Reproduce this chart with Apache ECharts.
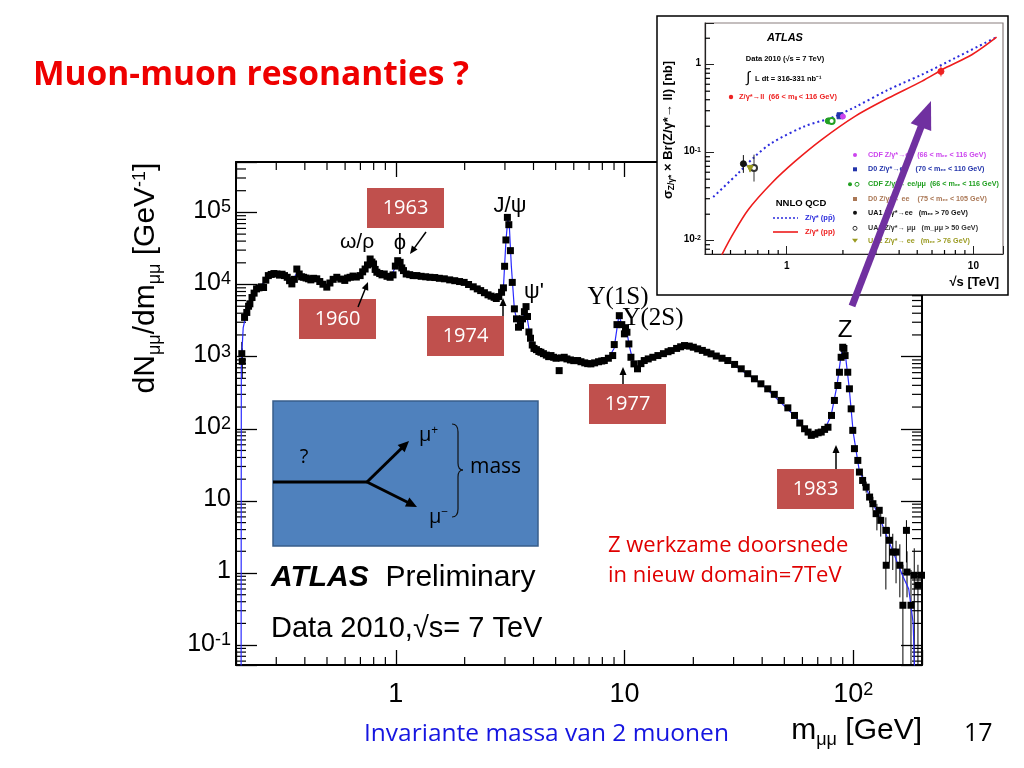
<!DOCTYPE html>
<html><head><meta charset="utf-8">
<script src="https://cdn.jsdelivr.net/npm/echarts@6/dist/echarts.min.js"></script>
<style>html,body{margin:0;padding:0;background:#fff;}#c{width:1024px;height:768px;}</style>
</head><body><div id="c"></div>
<script>
// ---------------- main spectrum data (m_mumu in GeV, dN/dm in 1/GeV) ----------------
const massGeV = [0.212,0.213,0.218,0.223,0.227,0.230,0.235,0.240,0.246,0.252,0.258,0.264,0.270,0.277,0.285,0.293,0.302,0.310,0.318,0.326,0.335,0.343,0.351,0.360,0.369,0.378,0.387,0.395,0.405,0.415,0.425,0.437,0.451,0.465,0.480,0.499,0.515,0.532,0.552,0.575,0.598,0.615,0.631,0.650,0.672,0.698,0.716,0.734,0.752,0.772,0.786,0.799,0.812,0.826,0.850,0.870,0.890,0.915,0.944,0.972,0.995,1.019,1.044,1.062,1.080,1.110,1.150,1.190,1.236,1.290,1.350,1.410,1.480,1.550,1.630,1.720,1.810,1.900,1.990,2.080,2.180,2.270,2.350,2.440,2.530,2.610,2.690,2.750,2.820,2.900,2.955,2.990,3.030,3.075,3.120,3.170,3.230,3.300,3.370,3.440,3.510,3.580,3.650,3.710,3.765,3.820,3.880,3.950,4.020,4.120,4.220,4.310,4.420,4.550,4.660,4.770,4.900,5.020,5.180,5.300,5.450,5.600,5.800,6.000,6.240,6.450,6.700,6.900,7.130,7.400,7.700,7.950,8.160,8.500,8.880,9.020,9.270,9.490,9.730,9.990,10.10,10.25,10.45,10.67,11.00,11.40,11.80,12.20,12.70,13.30,14.00,14.80,15.50,16.00,16.90,17.60,18.30,19.20,20.00,20.90,21.90,22.90,23.90,25.20,26.70,28.30,30.30,32.40,34.60,37.00,39.50,42.30,45.20,48.40,51.80,55.40,58.40,61.30,63.50,65.60,68.00,70.30,72.50,75.00,77.60,80.40,82.80,85.70,87.10,88.60,90.00,91.10,92.20,94.70,96.30,98.00,99.60,101.3,104.8,106.5,110.0,114.0,118.0,122.0,126.0,130.0,132.0,139.0,139.5,144.0,149.0,154.0,160.0,165.0,171.0,172.0,179.0,185.0,192.0,199.0];
const dNdm = [1100,860,3500,4100,5000,5400,6600,7600,8700,9000,9300,9100,11500,13300,13800,14200,14000,13500,13900,13300,12600,11300,10200,11800,16400,14000,12800,12600,12300,12000,11600,12200,12000,11000,10100,9200,10500,11800,12600,11900,11400,12300,12600,13100,12700,13300,15000,16400,18700,22600,20500,19300,16200,14800,14200,13600,14000,13000,12600,13600,18000,21400,20300,17000,15600,14000,13700,13300,13300,13000,12800,12600,12500,12200,12000,11600,11300,11000,10700,10000,9300,8700,8240,7700,7200,6900,6650,6400,6800,7800,9000,17900,41500,85300,67600,29500,10700,4600,3340,2560,2700,3340,4200,4940,3600,2200,1800,1450,1300,1250,1180,1150,1100,1050,1000,1035,980,950,640,960,980,930,900,880,883,850,820,800,794,820,850,870,883,950,1035,1470,2780,3700,2780,2070,2520,2180,1500,980,794,678,800,883,930,980,1035,1100,1170,1213,1300,1370,1425,1400,1350,1283,1220,1150,1094,1020,950,883,780,678,580,493,420,358,300,247,195,153,120,100,90,81,84,88,90,98,105,153,247,398,608,980,1350,1300,1035,608,358,189,95,53,36.4,25.1,19.2,15.5,11.3,9.14,6.65,7.4,5.37,3.9,1.28,2.84,1.95,1.95,1.28,0.357,3.9,1.03,0.357,0.93,0.676,0.93];
// Monte Carlo (blue line)
const mcMass = [0.2105,0.211,0.215,0.222,0.235,0.25,0.27,0.30,0.35,0.37,0.40,0.50,0.55,0.70,0.77,0.83,0.95,1.02,1.08,1.4,2.0,2.7,2.85,2.96,3.03,3.09,3.14,3.20,3.30,3.45,3.60,3.69,3.78,3.90,4.3,6.0,7.1,8.5,9.0,9.46,9.75,10.0,10.2,10.5,10.9,11.4,12.5,18.3,28,40,55,65,75,80,85,88,90.5,93,96,100,106,115,130,150,165,175,183,187];
const mcVal  = [0.01,800,2500,4000,6500,8800,11500,14000,11000,14500,12500,9800,12300,13300,21000,15000,12800,20500,15500,12600,10700,6600,7000,10000,40000,82000,60000,18000,4500,2500,3500,4900,3000,1600,1150,880,800,950,1300,3800,2700,2200,2400,1400,850,700,900,1420,890,410,155,82,98,150,400,900,1450,900,380,90,28,14,6,1.9,0.9,0.6,0.2,0.02];
// error bars
const errMass = [0.212,0.213,110,114,118,122,127,132,139,144,149,154,160,165,171,172,179,185,192,199];
const errLow  = [700,500,16,13,9.3,7.4,3.9,3.2,0.59,1.4,1.1,0.72,0.46,0.01,1.4,0.46,0.01,0.01,0.01,0.46];
const errHigh = [1600,1300,23,18.5,13.8,11.4,9.1,7.9,5.9,4.3,3.5,2.8,2.5,1.3,5.4,2.0,1.1,2.2,1.3,1.8];

// ---------------- inset: sigma x BR vs sqrt(s) ----------------
const ppbarS   = [0.404,0.551,0.676,0.831,1.25,1.74,2.32,3.5,5.28,7.97,13.3];
const ppbarSig = [0.0314,0.0588,0.0908,0.129,0.2,0.25,0.33,0.52,0.77,1.19,2.06];
const ppS      = [0.449,0.507,0.622,0.832,1.107,1.54,2.32,3.5,5.28,7.05,9.8,13.3];
const ppSig    = [0.0069,0.0112,0.0225,0.0453,0.0796,0.141,0.259,0.418,0.647,0.917,1.3,2.06];
const ptS      = [0.586,0.668,0.636,1.67,1.74,1.93,2.0,6.7];
const ptSig    = [0.075,0.067,0.066,0.23,0.23,0.263,0.258,0.84];
const ptLo     = [0.059,0.047,0.060,0.22,0.22,0.25,0.25,0.736];
const ptHi     = [0.094,0.095,0.073,0.24,0.24,0.275,0.27,0.957];
const ptNames  = ['UA1 ee','UA1 mumu','UA2 ee','CDF ee/mumu','CDF ee/mumu','D0 ee','CDF ee','ATLAS'];

// ---------------- helpers ----------------
const ptStyle = [
  {symbol:'circle',color:'#111',size:6},
  {symbol:'emptyCircle',color:'#333',size:6},
  {symbol:'triangle',color:'#9a9a20',size:6,rot:180},
  {symbol:'circle',color:'#22a022',size:6},
  {symbol:'emptyCircle',color:'#22a022',size:6},
  {symbol:'rect',color:'#2233aa',size:6},
  {symbol:'circle',color:'#cc44ee',size:5},
  {symbol:'circle',color:'#ee2222',size:6}
];
function decadeMinor(lo, hi){ const out=[]; for(let d=Math.floor(Math.log10(lo)); d<=Math.ceil(Math.log10(hi)); d++){ for(let k=2;k<=9;k++){ const v=k*Math.pow(10,d); if(v>lo && v<hi) out.push(v);} } return out; }
function isDecade(v){ const l=Math.log10(v); return Math.abs(l-Math.round(l))<1e-6; }
function powFmt(v){ if(!isDecade(v)) return ''; const e=Math.round(Math.log10(v)); if(e===0) return '{n|1}'; if(e===1) return '{n|10}'; return '{n|10}{e|'+e+'}'; }
const SANS='Liberation Sans', SLIDE='Open Sans';

function arrowEls(x1,y1,x2,y2,color,lw,hl,hw,z){
  const dx=x2-x1, dy=y2-y1, L=Math.hypot(dx,dy), ux=dx/L, uy=dy/L;
  const bx=x2-ux*hl, by=y2-uy*hl, px=-uy, py=ux;
  return [
    {type:'line',z:z,shape:{x1:x1,y1:y1,x2:bx+ux,y2:by+uy},style:{stroke:color,lineWidth:lw}},
    {type:'polygon',z:z,shape:{points:[[x2,y2],[bx+px*hw/2,by+py*hw/2],[bx-px*hw/2,by-py*hw/2]]},style:{fill:color}}
  ];
}
function txt(x,y,text,o){
  o=o||{};
  return {type:'text',z:o.z||6,x:x,y:y,rotation:o.rot||0,style:{text:text,fill:o.color||'#000',font:(o.style||'')+' '+(o.weight||'normal')+' '+(o.size||14)+'px "'+(o.family||SANS)+'"',align:o.align||'left',verticalAlign:'middle',rich:o.rich}};
}
function yearBox(x,y,label){
  return [
    {type:'rect',z:6,shape:{x:x,y:y,width:77,height:40},style:{fill:'#c0504d'}},
    txt(x+38.5,y+20,label,{color:'#fff',size:20,family:SLIDE,z:7,align:'center'})
  ];
}

const xMinorMain = decadeMinor(0.2,200);
const yMinorMain = decadeMinor(0.053,5e5);
const xMinorIn = decadeMinor(0.365,14.4);
const yMinorIn = decadeMinor(0.00706,2.98);

function minorTickSeries(values, isX, xi, yi, len1, len2, z, both){
  return {
    type:'custom', xAxisIndex:xi, yAxisIndex:yi, z:z, silent:true,
    data: values.map(v=> isX ? [v,1] : [1,v]),
    renderItem:function(params, api){
      const cs=params.coordSys; const ch=[];
      const st={stroke:'#000',lineWidth:1.2};
      if(isX){
        const x=api.coord([api.value(0),1])[0];
        ch.push({type:'line',shape:{x1:x,y1:cs.y+cs.height,x2:x,y2:cs.y+cs.height-len1},style:st});
        if(both) ch.push({type:'line',shape:{x1:x,y1:cs.y,x2:x,y2:cs.y+len2},style:st});
      } else {
        const y=api.coord([1,api.value(1)])[1];
        ch.push({type:'line',shape:{x1:cs.x,y1:y,x2:cs.x+len1,y2:y},style:st});
        if(both) ch.push({type:'line',shape:{x1:cs.x+cs.width,y1:y,x2:cs.x+cs.width-len2,y2:y},style:st});
      }
      return {type:'group',children:ch};
    }
  };
}
function errSeries(xs, lo, hi, xi, yi, z, colorFn){
  return {
    type:'custom', xAxisIndex:xi, yAxisIndex:yi, z:z, silent:true,
    data: xs.map((x,i)=>[x,lo[i],hi[i]]),
    renderItem:function(params, api){
      const cs=params.coordSys;
      const a=api.coord([api.value(0),api.value(1)]), b=api.coord([api.value(0),api.value(2)]);
      const clamp=y=>Math.max(cs.y,Math.min(cs.y+cs.height,y));
      return {type:'line',shape:{x1:a[0],y1:clamp(a[1]),x2:b[0],y2:clamp(b[1])},style:{stroke:colorFn?colorFn(params.dataIndex):'#000',lineWidth:1}};
    }
  };
}

const mainRich = {n:{fontSize:25,fontFamily:SANS,color:'#000',verticalAlign:'top',lineHeight:28},e:{fontSize:18,fontFamily:SANS,color:'#000',verticalAlign:'top',lineHeight:28}};
const mainRichX = {n:{fontSize:27,fontFamily:SANS,color:'#000',verticalAlign:'top',lineHeight:30},e:{fontSize:18,fontFamily:SANS,color:'#000',verticalAlign:'top',lineHeight:30}};
const inRich = {n:{fontSize:10,fontFamily:SANS,fontWeight:'bold',color:'#000',verticalAlign:'top',lineHeight:12},e:{fontSize:7,fontFamily:SANS,fontWeight:'bold',color:'#000',verticalAlign:'top',lineHeight:12}};

const option = {
  animation:false,
  backgroundColor:'#fff',
  grid:[
    {left:236,top:162,width:686,height:503,show:false},
    {left:705,top:23,width:298,height:231,show:false}
  ],
  xAxis:[
    {type:'log',logBase:10,gridIndex:0,min:0.2,max:200,position:'bottom',
     axisLine:{lineStyle:{color:'#000',width:2}},axisTick:{inside:true,length:15,lineStyle:{color:'#000',width:1.3}},
     axisLabel:{formatter:powFmt,margin:16,rich:mainRichX,color:'#000'},splitLine:{show:false},minorTick:{show:false}},
    {type:'log',logBase:10,gridIndex:0,min:0.2,max:200,position:'top',
     axisLine:{lineStyle:{color:'#000',width:2}},axisTick:{inside:true,length:15,lineStyle:{color:'#000',width:1.3}},
     axisLabel:{show:false},splitLine:{show:false}},
    {type:'log',logBase:10,gridIndex:1,min:0.365,max:14.4,position:'bottom',z:20,
     axisLine:{lineStyle:{color:'#222',width:1.2}},axisTick:{inside:true,length:8,lineStyle:{color:'#222',width:1}},
     axisLabel:{formatter:powFmt,margin:7,rich:inRich,color:'#000'},splitLine:{show:false}}
  ],
  yAxis:[
    {type:'log',logBase:10,gridIndex:0,min:0.053,max:5e5,position:'left',
     axisLine:{lineStyle:{color:'#000',width:2}},axisTick:{inside:true,length:21,lineStyle:{color:'#000',width:1.3}},
     axisLabel:{formatter:powFmt,margin:5,rich:mainRich,color:'#000'},splitLine:{show:false}},
    {type:'log',logBase:10,gridIndex:0,min:0.053,max:5e5,position:'right',
     axisLine:{lineStyle:{color:'#000',width:2}},axisTick:{inside:true,length:21,lineStyle:{color:'#000',width:1.3}},
     axisLabel:{show:false},splitLine:{show:false}},
    {type:'log',logBase:10,gridIndex:1,min:0.00706,max:2.98,position:'left',z:20,
     axisLine:{lineStyle:{color:'#222',width:1.2}},axisTick:{inside:true,length:9,lineStyle:{color:'#222',width:1}},
     axisLabel:{formatter:powFmt,margin:4,rich:inRich,color:'#000'},splitLine:{show:false}}
  ],
  series:[
    {type:'line',xAxisIndex:0,yAxisIndex:0,z:3,showSymbol:false,silent:true,clip:true,
     data:mcMass.map((m,i)=>[m,mcVal[i]]),lineStyle:{color:'#2a2aff',width:1.2}},
    errSeries(errMass,errLow,errHigh,0,0,3),
    {type:'scatter',xAxisIndex:0,yAxisIndex:0,z:4,symbol:'rect',symbolSize:7,silent:true,
     data:massGeV.map((m,i)=>[m,dNdm[i]]),itemStyle:{color:'#000',opacity:1}},
    minorTickSeries(xMinorMain,true,0,0,8,8,2,true),
    minorTickSeries(yMinorMain,false,0,0,10,10,2,true),
    // inset
    {type:'line',xAxisIndex:2,yAxisIndex:2,z:21,showSymbol:false,silent:true,smooth:0.3,clip:true,
     data:ppbarS.map((s,i)=>[s,ppbarSig[i]]),lineStyle:{color:'#2b2bdd',width:2,type:[2,3]}},
    {type:'line',xAxisIndex:2,yAxisIndex:2,z:21,showSymbol:false,silent:true,smooth:0.3,clip:true,
     data:ppS.map((s,i)=>[s,ppSig[i]]),lineStyle:{color:'#ee1c1c',width:1.6}},
    errSeries(ptS,ptLo,ptHi,2,2,22,i=>ptStyle[i].color),
    {type:'scatter',xAxisIndex:2,yAxisIndex:2,z:23,silent:true,
     data:ptS.map((s,i)=>({name:ptNames[i],value:[s,ptSig[i]],symbol:ptStyle[i].symbol,symbolSize:ptStyle[i].size,symbolRotate:ptStyle[i].rot||0,itemStyle:{color:ptStyle[i].color,borderColor:ptStyle[i].color,opacity:1}}))},
    minorTickSeries(xMinorIn,true,2,2,4,0,21,false),
    minorTickSeries(yMinorIn,false,2,2,5,0,21,false)
  ],
  graphic:{elements:[]}
};

const G = option.graphic.elements;
// slide title
G.push(txt(33,75,'Muon-muon resonanties ?',{color:'#ee0000',size:33.5,weight:'bold',family:SLIDE}));
// y axis title (rotated)
G.push({type:'text',z:6,x:148,y:278,rotation:Math.PI/2,style:{text:'{a|dN}{s|μμ}{a|/dm}{s|μμ}{a| [GeV}{p|-1}{a|]}',align:'center',verticalAlign:'middle',
  rich:{a:{fontSize:30,fontFamily:SANS,color:'#000',verticalAlign:'top',lineHeight:34},
        s:{fontSize:18,fontFamily:SANS,color:'#000',verticalAlign:'top',padding:[15,0,0,0],lineHeight:21},
        p:{fontSize:18,fontFamily:SANS,color:'#000',verticalAlign:'top',lineHeight:21}}}});
// x axis title
G.push({type:'text',z:6,x:922,y:733,style:{text:'{a|m}{s|μμ}{a| [GeV]}',align:'right',verticalAlign:'middle',
  rich:{a:{fontSize:30,fontFamily:SANS,color:'#000',verticalAlign:'top',lineHeight:34},
        s:{fontSize:18,fontFamily:SANS,color:'#000',verticalAlign:'top',padding:[15,0,0,0],lineHeight:21}}}});
G.push(txt(364,734,'Invariante massa van 2 muonen',{color:'#1515e0',size:24.5,family:SLIDE}));
G.push(txt(964,734,'17',{color:'#000',size:25,family:SLIDE}));
// particle labels
G.push(txt(357,242,'ω/ρ',{size:21,align:'center'}));
G.push(txt(400,243,'ϕ',{size:22,align:'center'}));
G.push(txt(510,206,'J/ψ',{size:22,align:'center'}));
G.push(txt(534,292,"ψ'",{size:22,align:'center'}));
G.push(txt(618,297,'Υ(1S)',{size:25,align:'center',family:'Liberation Serif'}));
G.push(txt(653,318,'Υ(2S)',{size:25,align:'center',family:'Liberation Serif'}));
G.push(txt(845,330,'Z',{size:24,align:'center'}));
// year boxes + arrows
G.push(...yearBox(367,188,'1963'), ...arrowEls(426,232,410,254,'#000',1.5,8,7,6));
G.push(...yearBox(299,299,'1960'), ...arrowEls(358,307,368,282,'#000',1.5,8,7,6));
G.push(...yearBox(427,316,'1974'), ...arrowEls(503,316,503,298,'#000',1.5,8,7,6));
G.push(...yearBox(589,384,'1977'), ...arrowEls(623,384,623,367,'#000',1.5,8,7,6));
G.push(...yearBox(777,469,'1983'), ...arrowEls(836,469,836,445,'#000',1.5,8,7,6));
// red note
G.push(txt(608,546,'Z werkzame doorsnede',{color:'#e00000',size:22,family:SLIDE}));
G.push(txt(608,576,'in nieuw domain=7TeV',{color:'#e00000',size:22,family:SLIDE}));
// decay diagram box
G.push({type:'rect',z:6,shape:{x:273,y:401,width:265,height:145},style:{fill:'#4f81bd',stroke:'#385d8a',lineWidth:1.5}});
G.push({type:'line',z:7,shape:{x1:273,y1:482,x2:367,y2:482},style:{stroke:'#000',lineWidth:3}});
G.push(...arrowEls(367,482,409,441,'#000',3,11,10,7));
G.push(...arrowEls(367,482,417,507,'#000',3,11,10,7));
G.push(txt(304,457,'?',{size:20,family:SLIDE,align:'center',z:7}));
G.push({type:'text',z:7,x:419,y:437,style:{text:'{a|μ}{s|+}',verticalAlign:'middle',rich:{a:{fontSize:20,fontFamily:SLIDE,color:'#000',verticalAlign:'top',lineHeight:24},s:{fontSize:12,fontFamily:SLIDE,color:'#000',verticalAlign:'top',lineHeight:24}}}});
G.push({type:'text',z:7,x:429,y:519,style:{text:'{a|μ}{s|−}',verticalAlign:'middle',rich:{a:{fontSize:20,fontFamily:SLIDE,color:'#000',verticalAlign:'top',lineHeight:24},s:{fontSize:12,fontFamily:SLIDE,color:'#000',verticalAlign:'top',lineHeight:24}}}});
// brace
const braceSt={stroke:'#111',lineWidth:1.2,fill:null};
G.push({type:'bezierCurve',z:7,shape:{x1:452,y1:424,cpx1:458,cpy1:424,x2:458,y2:432},style:braceSt});
G.push({type:'line',z:7,shape:{x1:458,y1:432,x2:458,y2:463},style:braceSt});
G.push({type:'bezierCurve',z:7,shape:{x1:458,y1:463,cpx1:458,cpy1:470,x2:463,y2:470},style:braceSt});
G.push({type:'bezierCurve',z:7,shape:{x1:463,y1:470,cpx1:458,cpy1:470,x2:458,y2:477},style:braceSt});
G.push({type:'line',z:7,shape:{x1:458,y1:477,x2:458,y2:509},style:braceSt});
G.push({type:'bezierCurve',z:7,shape:{x1:458,y1:509,cpx1:458,cpy1:517,x2:452,y2:517},style:braceSt});
G.push(txt(470,467,'mass',{size:21,family:SLIDE,z:7}));
// ATLAS text
G.push({type:'text',z:6,x:271,y:578,style:{text:'{b|ATLAS}{n|  Preliminary}',verticalAlign:'middle',rich:{b:{fontSize:30,fontFamily:SANS,fontWeight:'bold',fontStyle:'italic',color:'#000'},n:{fontSize:30,fontFamily:SANS,color:'#000'}}}});
G.push(txt(271,629,'Data 2010,√s= 7 TeV',{size:29}));

// ---------------- inset frame & texts ----------------
G.push({type:'rect',z:10,shape:{x:657,y:16,width:351,height:279},style:{fill:'#fff',stroke:'#000',lineWidth:1.5}});
G.push({type:'rect',z:19,shape:{x:705,y:23,width:298,height:231},style:{fill:null,stroke:'#8a7f7f',lineWidth:1.2}});
G.push({type:'text',z:25,x:669,y:130,rotation:Math.PI/2,style:{text:'{a|σ}{s|Z/γ*}{a| × Br(Z/γ*→ ll) [nb]}',align:'center',verticalAlign:'middle',
  rich:{a:{fontSize:13,fontFamily:SANS,fontWeight:'bold',color:'#000',verticalAlign:'top',lineHeight:15},
        s:{fontSize:8.5,fontFamily:SANS,fontWeight:'bold',color:'#000',verticalAlign:'top',padding:[6,0,0,0],lineHeight:9}}}});
G.push(txt(999,282,'√s [TeV]',{size:13,weight:'bold',align:'right',z:25}));
G.push(txt(785,38,'ATLAS',{size:11,weight:'bold',style:'italic',align:'center',z:25}));
G.push(txt(785,59,'Data 2010 (√s = 7 TeV)',{size:7.5,weight:'bold',align:'center',z:25}));
G.push(txt(746,78,'∫',{size:15,z:25}));
G.push(txt(755,79,'L dt = 316-331 nb⁻¹',{size:7.5,weight:'bold',z:25}));
G.push({type:'circle',z:25,shape:{cx:731,cy:97,r:2.2},style:{fill:'#ee2222'}});
G.push(txt(739,97,'Z/γ*→ll  (66 < mₗₗ < 116 GeV)',{size:7.5,weight:'bold',color:'#ee2222',z:25}));
const legRows = [
  [155,'#cc44ee','CDF Z/γ*→ee  (66 < mₑₑ < 116 GeV)','circle'],
  [169.3,'#2233aa','D0 Z/γ*→ee    (70 < mₑₑ < 110 GeV)','rect'],
  [184.3,'#22a022','CDF Z/γ*→ ee/μμ  (66 < mₑₑ < 116 GeV)','circle2'],
  [199,'#aa7755','D0 Z/γ*→ ee    (75 < mₑₑ < 105 GeV)','rect'],
  [212.7,'#111111','UA1 Z/γ*→ee   (mₑₑ > 70 GeV)','circle'],
  [228.3,'#333333','UA1 Z/γ*→ μμ   (m_μμ > 50 GeV)','empty'],
  [240.7,'#9a9a20','UA2 Z/γ*→ ee   (mₑₑ > 76 GeV)','tri']
];
legRows.forEach(r=>{
  const y=r[0], c=r[1];
  if(r[3]==='circle') G.push({type:'circle',z:25,shape:{cx:855,cy:y,r:2},style:{fill:c}});
  if(r[3]==='rect') G.push({type:'rect',z:25,shape:{x:853,y:y-2,width:4,height:4},style:{fill:c}});
  if(r[3]==='circle2'){ G.push({type:'circle',z:25,shape:{cx:850,cy:y,r:2},style:{fill:c}}); G.push({type:'circle',z:25,shape:{cx:857,cy:y,r:2},style:{fill:null,stroke:c,lineWidth:1}}); }
  if(r[3]==='empty') G.push({type:'circle',z:25,shape:{cx:855,cy:y,r:2},style:{fill:null,stroke:c,lineWidth:1}});
  if(r[3]==='tri') G.push({type:'polygon',z:25,shape:{points:[[852,y-2],[858,y-2],[855,y+2]]},style:{fill:c}});
  G.push(txt(868,y,r[2],{size:7.2,weight:'bold',color:c,z:25}));
});
G.push(txt(801,203,'NNLO QCD',{size:9.5,weight:'bold',align:'center',z:25}));
G.push({type:'line',z:25,shape:{x1:773,y1:218,x2:798,y2:218},style:{stroke:'#2b2bdd',lineWidth:1.6,lineDash:[2,2]}});
G.push(txt(805,218,'Z/γ* (pp̄)',{size:7.5,weight:'bold',color:'#2b2bdd',z:25}));
G.push({type:'line',z:25,shape:{x1:773,y1:232,x2:798,y2:232},style:{stroke:'#ee1c1c',lineWidth:1.6}});
G.push(txt(805,232,'Z/γ* (pp)',{size:7.5,weight:'bold',color:'#ee1c1c',z:25}));
// purple arrow
G.push(...arrowEls(852,306,931,101,'#7030a0',7,28,22,30));

const chart = echarts.init(document.getElementById('c'),null,{renderer:'canvas'});
chart.setOption(option);
</script></body></html>
